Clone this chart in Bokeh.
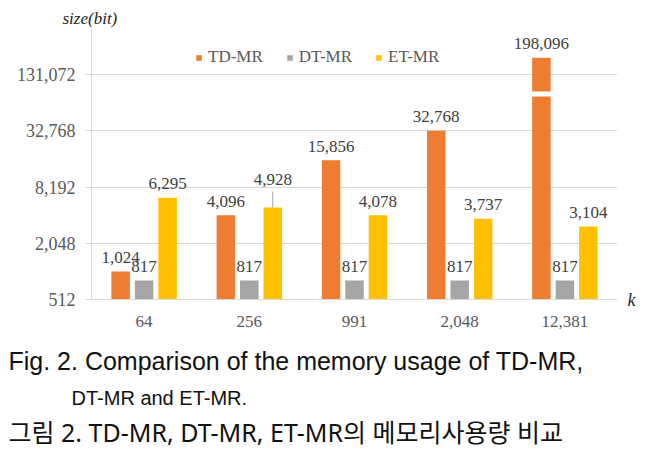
from bokeh.plotting import figure
from bokeh.models import (ColumnDataSource, FactorRange, Range1d, FixedTicker,
                          NumeralTickFormatter, Legend, LegendItem, Title, LogAxis)
from bokeh.transform import dodge
from bokeh.core.properties import value
from bokeh.embed import file_html
from bokeh.resources import INLINE

# ---------------- data ----------------
categories = ["64", "256", "991", "2,048", "12,381"]
td_mr = [1024, 4096, 15856, 32768, 198096]
dt_mr = [817, 817, 817, 817, 817]
et_mr = [6295, 4928, 4078, 3737, 3104]
y_ticks = [512, 2048, 8192, 32768, 131072]
series_names = ["TD-MR", "DT-MR", "ET-MR"]
y_title = "size(bit)"
x_title = "k"
caption_en_1 = "Fig. 2. Comparison of the memory usage of TD-MR,"
caption_en_2 = "DT-MR and ET-MR."
caption_ko = "그림 2. TD-MR, DT-MR, ET-MR의 메모리사용량 비교"

# ---------------- style ----------------
colors = ["#ED7D31", "#A5A5A5", "#FFC000"]
serif = "Liberation Serif"
label_color = "#404040"
axis_text = "#595959"
grid_color = "#D9D9D9"
px_per_doubling = 28.125
frame_h = 271
frame_w = 526
left_border = 91
y_bottom = 512
y_top = y_bottom * 2 ** (frame_h / px_per_doubling)
bar_w = 0.176
offs = [-0.223, 0.0, 0.223]
et_label_offsets = [14, 28, 14, 14, 14]

p = figure(frame_width=frame_w, frame_height=frame_h, x_range=FactorRange(*categories),
           y_axis_type="log", y_range=Range1d(y_bottom, y_top),
           output_backend="svg", toolbar_location=None,
           min_border_left=left_border, min_border_right=30, min_border_top=28,
           min_border_bottom=150)
p.outline_line_color = None
p.background_fill_color = "white"
p.border_fill_color = "white"

src = ColumnDataSource(dict(
    cat=categories, td=td_mr, dt=dt_mr, et=et_mr,
    td_lbl=[f"{v:,}" for v in td_mr],
    dt_lbl=[f"{v:,}" for v in dt_mr],
    et_lbl=[f"{v:,}" for v in et_mr],
    et_off=[-o for o in et_label_offsets],
))

renderers = []
for col, c, off in zip(["td", "dt", "et"], colors, offs):
    r = p.vbar(x=dodge("cat", off, range=p.x_range), top=col, bottom=y_bottom,
               width=bar_w, source=src, fill_color=c, line_color=None)
    renderers.append(r)

# break mark on the tallest bar
brk_src = ColumnDataSource(dict(cat=[categories[-1]],
                                lo=[131072 / 2 ** (22 / px_per_doubling)],
                                hi=[131072 / 2 ** (17 / px_per_doubling)]))
p.vbar(x=dodge("cat", offs[0], range=p.x_range), bottom="lo", top="hi",
       width=bar_w * 1.3, source=brk_src, fill_color="white", line_color=None)

# leader line for shifted label
lead_idx = [i for i, o in enumerate(et_label_offsets) if o > 14]
lead_src = ColumnDataSource(dict(cat=[categories[i] for i in lead_idx],
                                 y0=[et_mr[i] for i in lead_idx],
                                 y1=[et_mr[i] * 2 ** ((et_label_offsets[i] - 12) / px_per_doubling) for i in lead_idx]))
p.segment(x0=dodge("cat", offs[2], range=p.x_range), x1=dodge("cat", offs[2], range=p.x_range),
          y0="y0", y1="y1", source=lead_src, line_color="#A6A6A6", line_width=1)

# data labels
for col, off, yoff in zip(["td", "dt", "et"], offs, [-14, -14, "et_off"]):
    p.text(x=dodge("cat", off, range=p.x_range), y=col, text=col + "_lbl",
           source=src, y_offset=yoff, text_align="center", text_baseline="middle",
           text_font=value(serif), text_font_size="17px", text_color=label_color)

# axes
p.yaxis.ticker = FixedTicker(ticks=y_ticks)
p.yaxis.formatter = NumeralTickFormatter(format="0,0")
p.yaxis.major_label_text_font = serif
p.yaxis.major_label_text_font_size = "18px"
p.yaxis.major_label_text_color = axis_text
p.yaxis.axis_line_color = grid_color
p.yaxis.major_tick_line_color = grid_color
p.yaxis.major_tick_out = 6
p.yaxis.major_tick_in = 0
p.yaxis.minor_tick_line_color = None
p.yaxis.major_label_standoff = 10

p.xaxis.major_label_text_font = serif
p.xaxis.major_label_text_font_size = "17px"
p.xaxis.major_label_text_color = axis_text
p.xaxis.axis_line_color = grid_color
p.xaxis.major_tick_line_color = None
p.xaxis.minor_tick_line_color = None
p.xaxis.major_label_standoff = 10

p.xgrid.grid_line_color = None
p.ygrid.grid_line_color = grid_color
p.ygrid.minor_grid_line_color = None

# "k" marker at the right end of the category axis
k_axis = LogAxis(ticker=FixedTicker(ticks=[y_bottom]),
                 major_label_overrides={y_bottom: x_title},
                 axis_line_color=None, major_tick_line_color=None, minor_tick_line_color=None,
                 major_label_standoff=4, major_label_text_font=serif,
                 major_label_text_font_style="italic", major_label_text_font_size="18px",
                 major_label_text_color="#262626")
p.add_layout(k_axis, "right")

# legend
legend = Legend(items=[LegendItem(label=n, renderers=[r]) for n, r in zip(series_names, renderers)],
                orientation="horizontal", location=(104, 232),
                glyph_width=7, glyph_height=7, label_standoff=6, spacing=23,
                padding=0, margin=0, border_line_color=None, background_fill_alpha=0,
                label_text_font=serif, label_text_font_size="17px",
                label_text_color=axis_text, label_height=20)
p.add_layout(legend)

# y title above the axis
p.add_layout(Title(text=y_title, align="left", offset=-29, standoff=2,
                   text_font=serif, text_font_style="italic", text_font_size="17px",
                   text_color="#262626"), "above")

# captions below (a blank spacer first, to push the caption block down a little)
en_font = "Liberation Sans"
ko_font = "Noto Sans, Noto Sans CJK KR"
p.add_layout(Title(text=" ", align="left", standoff=1, text_font=en_font,
                   text_font_size="2px", text_color="#FFFFFF"), "below")
p.add_layout(Title(text=caption_en_1, align="left", offset=8 - left_border, standoff=20,
                   text_font=en_font, text_font_style="normal", text_font_size="25px",
                   text_color="#111111"), "below")
p.add_layout(Title(text=caption_en_2, align="left", offset=71 - left_border, standoff=0,
                   text_font=en_font, text_font_style="normal", text_font_size="20px",
                   text_color="#111111"), "below")
p.add_layout(Title(text=caption_ko, align="left", offset=8 - left_border, standoff=8,
                   text_font=ko_font, text_font_style="normal", text_font_size="25px",
                   text_color="#111111"), "below")

open("out.html", "w").write(file_html(p, INLINE))
